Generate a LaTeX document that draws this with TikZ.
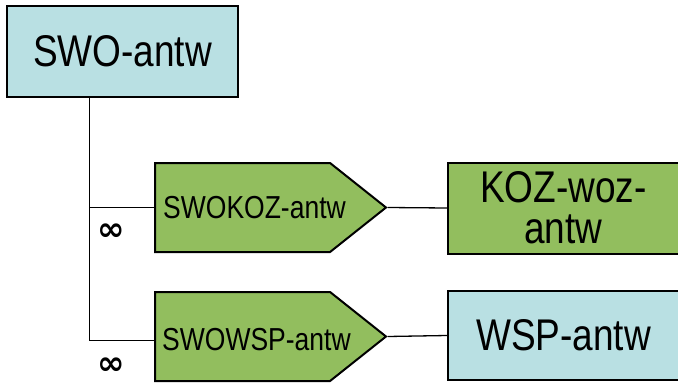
\documentclass[tikz,border=0pt]{standalone}
\usepackage{fontspec}
\setmainfont{Liberation Sans}
\newfontfamily\symfont{DejaVu Sans}
\usetikzlibrary{shapes.symbols}
\usetikzlibrary{positioning}

\definecolor{boxblue}{RGB}{185,224,227}
\definecolor{boxgreen}{RGB}{146,190,94}
\newcommand{\tallt}[1]{\scalebox{1}[1.2]{#1}}

\begin{document}
\begin{tikzpicture}[x=1pt,y=-1pt,
    entity/.style={draw=black, line width=2pt, minimum width=231pt, minimum height=91pt, inner sep=0pt, align=center, font=\fontsize{37}{43}\selectfont},
    link/.style={draw=black, line width=2pt, shape=signal, signal to=east, signal pointer angle=77, minimum width=231pt, minimum height=89pt, inner sep=0pt, fill=boxgreen, anchor=west},
    lbl/.style={inner sep=0pt, anchor=west, font=\fontsize{26.5}{30}\selectfont},
    card/.style={inner sep=0pt, font=\symfont\bfseries\fontsize{33}{36}\selectfont},
    wire/.style={line width=1.3pt}]

    \useasboundingbox (0,0) rectangle (678,383);

    % entities
    \node[entity, fill=boxblue] (swo) at (122.5,51) {\tallt{SWO-antw}};
    \node[entity, fill=boxgreen] (koz) at (563.5,208) {\tallt{KOZ-woz-}\\[-2pt]\tallt{antw}};
    \node[entity, fill=boxblue, minimum height=89pt] (wsp) at (563.5,335.5) {\tallt{WSP-antw}};

    % relations
    \node[link] (swokoz) at (154,207.5) {};
    \node[link] (swowsp) at (154,336.5) {};
    \node[lbl] (swokozlbl) at ([xshift=9pt]swokoz.west) {\tallt{SWOKOZ-antw}};
    \node[lbl] (swowsplbl) at ([xshift=8pt,yshift=-3pt]swowsp.west) {\tallt{SWOWSP-antw}};

    % wires
    \draw[wire] ([xshift=-33pt]swo.south) |- (swokoz.west);
    \draw[wire] ([xshift=-33pt]swo.south) |- ([yshift=-4pt]swowsp.west);
    \draw[wire] (swokoz.east) -- (koz.west);
    \draw[wire] (swowsp.east) -- (wsp.west);

    % cardinalities
    \node[card] (inf1) at (111,232) {∞};
    \node[card] (inf2) at (111,366) {∞};
\end{tikzpicture}
\end{document}
